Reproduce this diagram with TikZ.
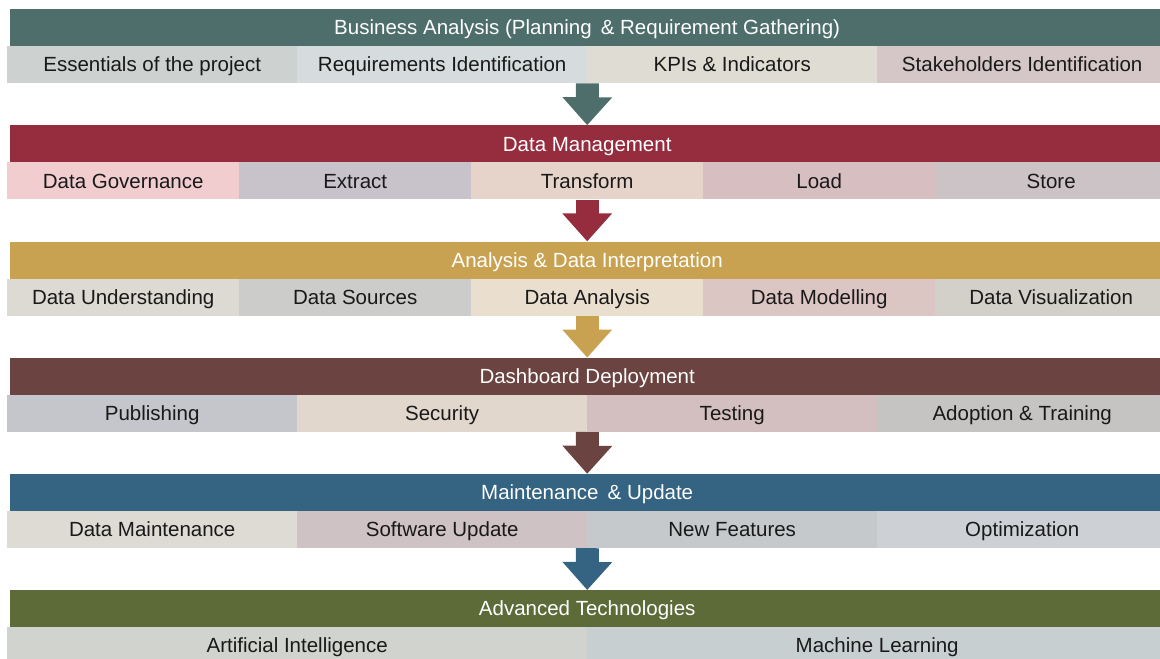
\documentclass[tikz,border=0pt]{standalone}
\usepackage{fontspec}
\setmainfont{Liberation Sans}
\usepackage{xcolor}
\usetikzlibrary{arrows.meta}
% band colours
\definecolor{hA}{RGB}{77,110,106}
\definecolor{hB}{RGB}{150,45,63}
\definecolor{hC}{RGB}{200,162,80}
\definecolor{hD}{RGB}{107,67,64}
\definecolor{hE}{RGB}{52,100,130}
\definecolor{hF}{RGB}{93,107,57}
\definecolor{txt}{RGB}{25,25,25}

\begin{document}
\begin{tikzpicture}[x=1pt,y=-1pt,
  head/.style={rectangle,anchor=north west,minimum width=1154pt,minimum height=37pt,inner sep=0pt,text height=14.5pt,text depth=0pt,text=white,font=\fontsize{20.5}{24}\selectfont},
  cell/.style={rectangle,anchor=north west,minimum height=37pt,inner sep=0pt,text height=14.5pt,text depth=0pt,text=txt,font=\fontsize{20.5}{24}\selectfont},
  four/.style={cell,minimum width=290pt},
  five/.style={cell,minimum width=232pt},
  two/.style={cell,minimum width=580pt},
  flow/.style={draw=#1,line width=23pt,-{Triangle[width=48pt,length=28pt]}}]
\useasboundingbox (0,0) rectangle (1160,659);
\clip (0,0) rectangle (1160,659);

% Business analysis
\node[head,fill=hA] (ba) at (10,9) {Business Analysis (Planning \,\& Requirement Gathering)};
\node[four,fill={rgb,255:red,205;green,209;blue,208}] (ba1) at (7,46) {Essentials of the project};
\node[four,fill={rgb,255:red,214;green,220;blue,221}] (ba2) at (297,46) {Requirements Identification};
\node[four,fill={rgb,255:red,223;green,221;blue,211}] (ba3) at (587,46) {KPIs \& Indicators};
\node[four,fill={rgb,255:red,213;green,199;blue,200}] (ba4) at (877,46) {Stakeholders Identification};

% Data management
\node[head,fill=hB] (dm) at (10,125.2) {Data Management};
\node[five,fill={rgb,255:red,242;green,205;blue,207}] (dm1) at (7,162.2) {Data Governance};
\node[five,fill={rgb,255:red,200;green,195;blue,202}] (dm2) at (239,162.2) {Extract};
\node[five,fill={rgb,255:red,230;green,212;blue,203}] (dm3) at (471,162.2) {Transform};
\node[five,fill={rgb,255:red,214;green,190;blue,193}] (dm4) at (703,162.2) {Load};
\node[five,fill={rgb,255:red,203;green,195;blue,197}] (dm5) at (935,162.2) {Store};

% Analysis
\node[head,fill=hC] (ad) at (10,241.4) {Analysis \& Data Interpretation};
\node[five,fill={rgb,255:red,220;green,218;blue,210}] (ad1) at (7,278.4) {Data Understanding};
\node[five,fill={rgb,255:red,204;green,204;blue,203}] (ad2) at (239,278.4) {Data Sources};
\node[five,fill={rgb,255:red,234;green,223;blue,206}] (ad3) at (471,278.4) {Data Analysis};
\node[five,fill={rgb,255:red,220;green,198;blue,196}] (ad4) at (703,278.4) {Data Modelling};
\node[five,fill={rgb,255:red,211;green,208;blue,201}] (ad5) at (935,278.4) {Data Visualization};

% Deployment
\node[head,fill=hD] (dd) at (10,357.6) {Dashboard Deployment};
\node[four,fill={rgb,255:red,196;green,198;blue,203}] (dd1) at (7,394.6) {Publishing};
\node[four,fill={rgb,255:red,226;green,215;blue,204}] (dd2) at (297,394.6) {Security};
\node[four,fill={rgb,255:red,212;green,191;blue,192}] (dd3) at (587,394.6) {Testing};
\node[four,fill={rgb,255:red,197;green,196;blue,194}] (dd4) at (877,394.6) {Adoption \& Training};

% Maintenance
\node[head,fill=hE] (mu) at (10,473.8) {Maintenance \,\& Update};
\node[four,fill={rgb,255:red,222;green,219;blue,212}] (mu1) at (7,510.8) {Data Maintenance};
\node[four,fill={rgb,255:red,207;green,194;blue,197}] (mu2) at (297,510.8) {Software Update};
\node[four,fill={rgb,255:red,197;green,201;blue,204}] (mu3) at (587,510.8) {New Features};
\node[four,fill={rgb,255:red,205;green,209;blue,213}] (mu4) at (877,510.8) {Optimization};

% Advanced technologies
\node[head,fill=hF] (at) at (10,590) {Advanced Technologies};
\node[two,fill={rgb,255:red,208;green,211;blue,206}] (at1) at (7,627) {Artificial Intelligence};
\node[two,fill={rgb,255:red,200;green,207;blue,209}] (at2) at (587,627) {Machine Learning};

% arrows between bands
\draw[flow=hA] (ba2.south east) -- (dm.north);
\draw[flow=hB] (dm3.south) -- (ad.north);
\draw[flow=hC] (ad3.south) -- (dd.north);
\draw[flow=hD] (dd2.south east) -- (mu.north);
\draw[flow=hE] (mu2.south east) -- (at.north);
\end{tikzpicture}
\end{document}
